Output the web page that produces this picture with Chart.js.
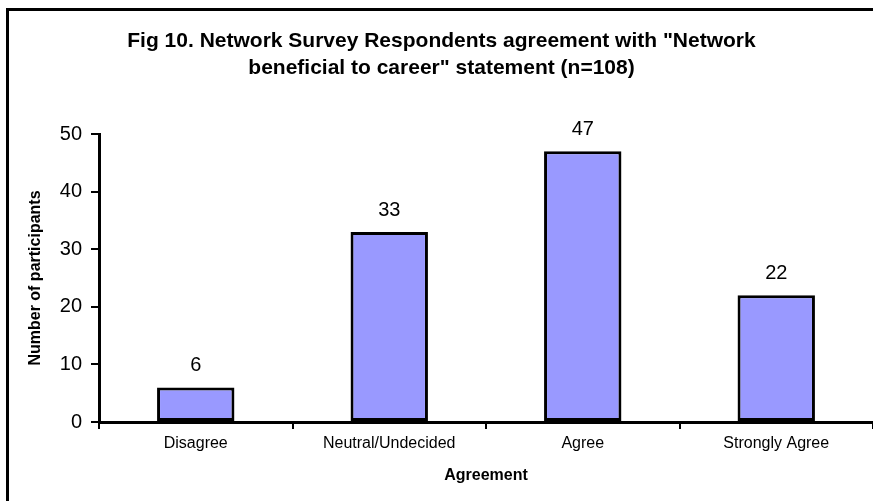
<!DOCTYPE html>
<html>
<head>
<meta charset="utf-8">
<title>Network beneficial to career</title>
<script src="https://cdn.jsdelivr.net/npm/chart.js@4"></script>
<style>
  html, body { margin: 0; padding: 0; background: #fff; }
  canvas { display: block; }
</style>
</head>
<body>
<canvas id="myChart" width="873" height="501"></canvas>
<script>
const categories = ['Disagree', 'Neutral/Undecided', 'Agree', 'Strongly Agree'];
const participants = [6, 33, 47, 22];
const yTicks = [0, 10, 20, 30, 40, 50];

const FONT = "'Liberation Sans', Arial, Helvetica, sans-serif";

// black frame round the figure (only the top and left edges fall inside the canvas)
const framePlugin = {
    id: 'frame',
    beforeDraw(chart) {
        const ctx = chart.ctx;
        ctx.save();
        ctx.strokeStyle = '#000';
        ctx.lineWidth = 3;
        ctx.strokeRect(7.5, 9.5, chart.width + 20, chart.height + 20);
        ctx.restore();
    }
};

// value written above each bar
const valueLabels = {
    id: 'valueLabels',
    afterDatasetsDraw(chart) {
        const ctx = chart.ctx;
        const meta = chart.getDatasetMeta(0);
        ctx.save();
        ctx.font = '20px ' + FONT;
        ctx.fillStyle = '#000';
        ctx.textAlign = 'center';
        ctx.textBaseline = 'alphabetic';
        meta.data.forEach((bar, i) => {
            ctx.fillText(String(chart.data.datasets[0].data[i]), bar.x, bar.y - 16);
        });
        ctx.restore();
    }
};

const chart = new Chart(document.getElementById('myChart'), {
    type: 'bar',
    data: {
        labels: categories,
        datasets: [{
            data: participants,
            backgroundColor: '#9999FF',
            borderColor: '#000',
            borderWidth: 3,
            borderSkipped: false,
            barPercentage: 0.4,
            categoryPercentage: 1.0
        }]
    },
    options: {
        responsive: false,
        animation: false,
        layout: {
            padding: { left: 10, right: 0, top: 0, bottom: 0 }
        },
        plugins: {
            legend: { display: false },
            tooltip: { enabled: false },
            title: {
                display: true,
                text: ['Fig 10. Network Survey Respondents agreement with "Network',
                       'beneficial to career" statement (n=108)'],
                color: '#000',
                font: { family: FONT, size: 21, weight: 'bold', lineHeight: 1.31 },
                padding: { top: 27, bottom: 52 }
            }
        },
        scales: {
            x: {
                offset: true,
                grid: {
                    offset: true,
                    drawOnChartArea: false,
                    drawTicks: true,
                    tickLength: 7,
                    color: '#000',
                    lineWidth: 2
                },
                border: { display: true, color: '#000', width: 3 },
                ticks: {
                    color: '#000',
                    padding: 5,
                    maxRotation: 0,
                    font: { family: FONT, size: 16 }
                },
                title: {
                    display: true,
                    text: 'Agreement',
                    color: '#000',
                    font: { family: FONT, size: 16, weight: 'bold' },
                    padding: { top: 0, bottom: 16 }
                },
                afterFit(scale) { scale.height = 79; }
            },
            y: {
                min: yTicks[0],
                max: yTicks[yTicks.length - 1],
                afterBuildTicks(scale) {
                    scale.ticks = yTicks.map(v => ({ value: v }));
                },
                grid: {
                    drawOnChartArea: false,
                    drawTicks: true,
                    tickLength: 8,
                    color: '#000',
                    lineWidth: 2
                },
                border: { display: true, color: '#000', width: 3 },
                ticks: {
                    color: '#000',
                    padding: 9,
                    font: { family: FONT, size: 20 }
                },
                title: {
                    display: true,
                    text: 'Number of participants',
                    color: '#000',
                    font: { family: FONT, size: 16, weight: 'bold' },
                    padding: { top: 16, bottom: 0 }
                },
                afterFit(scale) { scale.width = 89; }
            }
        }
    },
    plugins: [framePlugin, valueLabels]
});
</script>
</body>
</html>
